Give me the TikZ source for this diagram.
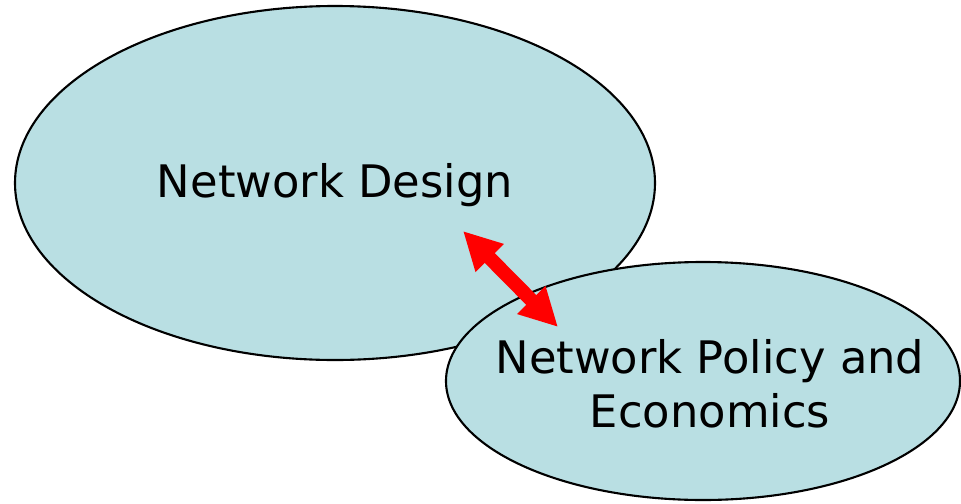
\documentclass[tikz,border=0pt]{standalone}
\usepackage{fontspec}
\setmainfont{DejaVu Sans}
\usetikzlibrary{shapes.geometric,arrows.meta}
\definecolor{topicblue}{RGB}{185,223,227}
\begin{document}
\begin{tikzpicture}[
		topic/.style={ellipse, draw=black, line width=1.2pt, fill=topicblue, inner sep=0pt},
		topictext/.style={align=center, inner sep=0pt, font=\fontsize{25.5}{31}\selectfont},
		link/.style={red, line width=0.28cm, {Triangle[length=0.76cm,width=0.74cm]}-{Triangle[length=0.76cm,width=0.74cm]}}
	]
		\useasboundingbox (0,0) rectangle (19.22,10.06);
		\node [topic, minimum width=12.8cm, minimum height=7.08cm] (design) at (6.70,6.40) {};
		\node [topic, minimum width=10.28cm, minimum height=4.76cm] (policy) at (14.06,2.44) {};
		\node [topictext] (designtext) at (6.70,6.36) {Network Design};
		\node [topictext] (policytext) at (14.20,2.38) {Network Policy and\\Economics};
		\coordinate (a) at (9.26,5.44);
		\coordinate (b) at (11.16,3.52);
		\draw [link] (a) -- (b);
\end{tikzpicture}
\end{document}
